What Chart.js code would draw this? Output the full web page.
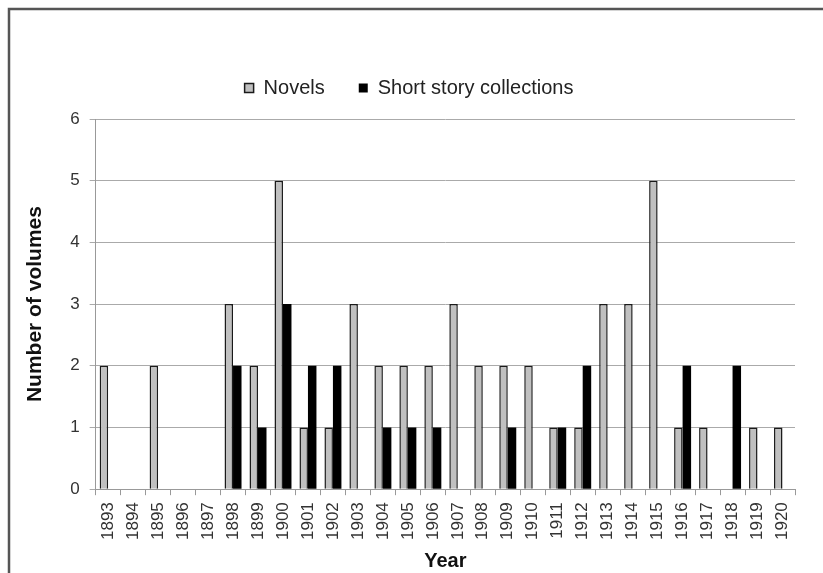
<!DOCTYPE html>
<html>
<head>
<meta charset="utf-8">
<script src="https://cdn.jsdelivr.net/npm/chart.js@4"></script>
<style>
  html, body { margin: 0; padding: 0; background: #fff; }
  #wrap { width: 823px; height: 573px; position: relative; }
</style>
</head>
<body>
<div id="wrap"><canvas id="volumesChart" width="823" height="573"></canvas></div>
<script>
const years = ['1893','1894','1895','1896','1897','1898','1899','1900','1901','1902','1903','1904','1905','1906',
               '1907','1908','1909','1910','1911','1912','1913','1914','1915','1916','1917','1918','1919','1920'];
const novels = [2,0,2,0,0,3,2,5,1,1,3,2,2,2,3,2,2,2,1,1,3,3,5,1,1,0,1,1];
const shortStories = [0,0,0,0,0,2,1,3,2,2,0,1,1,1,0,0,1,0,1,2,0,0,0,2,0,2,0,0];

const FONT = 'Liberation Sans, Arial, sans-serif';

// frame lines on top and left like the scanned figure
const framePlugin = {
    id: 'frame',
    afterDraw(chart) {
        const c = chart.ctx;
        c.save();
        c.strokeStyle = '#555';
        c.lineWidth = 2.5;
        c.beginPath();
        c.moveTo(9, 573);
        c.lineTo(9, 9);
        c.lineTo(823, 9);
        c.stroke();
        c.restore();
    }
};

// extra room under the legend
const legendGap = {
    id: 'legendGap',
    beforeInit(chart) {
        const fit = chart.legend.fit;
        chart.legend.fit = function () {
            fit.bind(chart.legend)();
            this.height += 11;
        };
    }
};

const ctx = document.getElementById('volumesChart').getContext('2d');
const volumesChart = new Chart(ctx, {
    type: 'bar',
    data: {
        labels: years,
        datasets: [{
            label: 'Novels',
            data: novels,
            backgroundColor: '#c0c0c0',
            borderColor: '#1a1a1a',
            borderWidth: 1.5
        }, {
            label: 'Short story collections',
            data: shortStories,
            backgroundColor: '#000',
            borderColor: '#000',
            borderWidth: 0
        }]
    },
    options: {
        responsive: false,
        animation: false,
        layout: { padding: { top: 44, right: 28, left: 23, bottom: 0 } },
        datasets: { bar: { categoryPercentage: 0.68, barPercentage: 1.0 } },
        plugins: {
            legend: {
                position: 'top',
                labels: {
                    boxWidth: 9,
                    boxHeight: 9,
                    padding: 34,
                    color: '#222',
                    font: { family: FONT, size: 20 }
                }
            },
            tooltip: { enabled: false }
        },
        scales: {
            x: {
                grid: {
                    offset: true,
                    drawOnChartArea: false,
                    drawTicks: true,
                    tickLength: 6,
                    color: '#999'
                },
                border: { color: '#999', width: 1 },
                ticks: {
                    minRotation: 90,
                    maxRotation: 90,
                    color: '#333',
                    padding: 7,
                    font: { family: FONT, size: 17 }
                },
                title: {
                    display: true,
                    text: 'Year',
                    color: '#111',
                    padding: { top: 2, bottom: 0 },
                    font: { family: FONT, size: 20, weight: 'bold' }
                }
            },
            y: {
                min: 0,
                max: 6,
                ticks: {
                    stepSize: 1,
                    color: '#333',
                    padding: 10,
                    font: { family: FONT, size: 17 }
                },
                grid: { color: '#aaa', tickLength: 6 },
                border: { color: '#999' },
                title: {
                    display: true,
                    text: 'Number of volumes',
                    color: '#111',
                    padding: { top: 0, bottom: 12 },
                    font: { family: FONT, size: 21, weight: 'bold' }
                }
            }
        }
    },
    plugins: [framePlugin, legendGap]
});
</script>
</body>
</html>
